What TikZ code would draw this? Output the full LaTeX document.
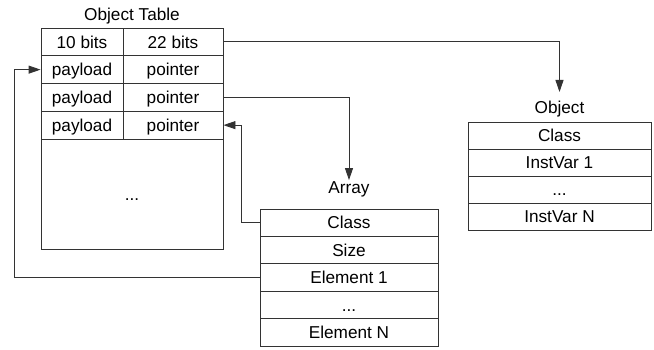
\documentclass[tikz,border=0pt]{standalone}
\usepackage{fontspec}
\setmainfont{Liberation Sans}
\usetikzlibrary{arrows.meta}
\tikzset{
  cell/.style={draw=black!80, line width=0.9pt, inner sep=0pt, minimum height=27.75pt, text height=13.5pt, text depth=1pt, font=\fontsize{17.2}{20}\selectfont},
  title/.style={inner sep=0pt, font=\fontsize{17.2}{20}\selectfont},
  link/.style={draw=black!80, line width=0.9pt, -{Triangle[length=12pt,width=8pt]}}
}

\begin{document}
\begin{tikzpicture}[x=1pt, y=-1pt]
			%%%%% START %%%%%
			\useasboundingbox (0, 0) rectangle (654, 349);
			
			% object table
			\node[title] (tabtitle) at (132, 16) {Object Table};
			\node[cell, minimum width=82pt] (hd0) at (82, 41.875) {10 bits};
			\node[cell, minimum width=100pt] (hd1) at (173, 41.875) {22 bits};
			\foreach \i/\y in {0/69.625, 1/97.375, 2/125.125} {
				\node[cell, minimum width=82pt] (pay\i) at (82, \y) {payload};
				\node[cell, minimum width=100pt] (ptr\i) at (173, \y) {pointer};
			}
			\node[cell, minimum width=182pt, minimum height=110pt] (tabrest) at (132, 194) {...};
			
			% array
			\node[title] (arrtitle) at (349, 189.5) {Array};
			\node[cell, minimum width=178pt, minimum height=27.4pt] (aclass) at (349, 222.7) {Class};
			\node[cell, minimum width=178pt, minimum height=27.4pt] (asize) at (349, 250.1) {Size};
			\node[cell, minimum width=178pt, minimum height=27.4pt] (aelem1) at (349, 277.5) {Element 1};
			\node[cell, minimum width=178pt, minimum height=27.4pt] (adots) at (349, 304.9) {...};
			\node[cell, minimum width=178pt, minimum height=27.4pt] (aelemn) at (349, 332.3) {Element N};
			
			% object
			\node[title] (objtitle) at (559.5, 109.2) {Object};
			\node[cell, minimum width=183pt, minimum height=27pt] (oclass) at (559.5, 135.6) {Class};
			\node[cell, minimum width=183pt, minimum height=27pt] (ovar1) at (559.5, 162.6) {InstVar 1};
			\node[cell, minimum width=183pt, minimum height=27pt] (odots) at (559.5, 189.6) {...};
			\node[cell, minimum width=183pt, minimum height=27pt] (ovarn) at (559.5, 216.6) {InstVar N};
			
			% pointers
			\coordinate (up1) at (241.5, 125.125);
			\coordinate (up2) at (14, 69.625);
			\draw[link, shorten >=9pt] (hd1.east) -| (objtitle.north);
			\draw[link, shorten >=1.5pt] (ptr1.east) -| (arrtitle.north);
			\draw[link] (aclass.west) -| (up1) -- (ptr2.east);
			\draw[link] (aelem1.west) -| (up2) -- (pay0.west);
			
			%%%%% END %%%%%
\end{tikzpicture}
\end{document}
